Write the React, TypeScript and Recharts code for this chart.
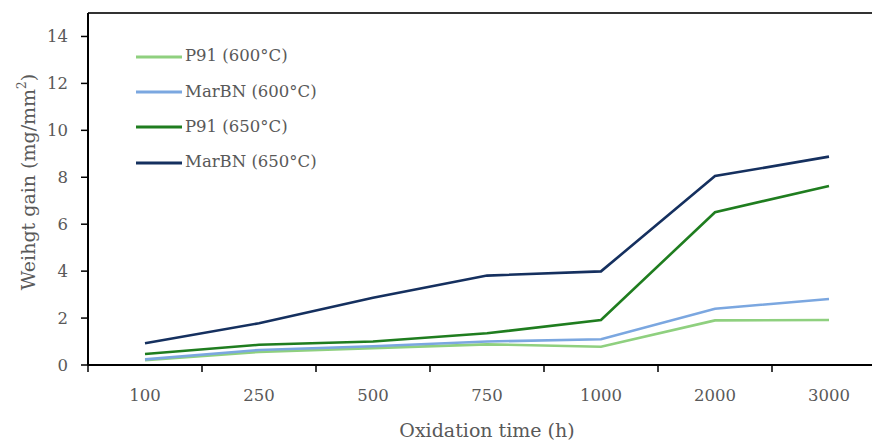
import React from 'react';
import { LineChart, Line, XAxis, YAxis, ReferenceLine, Legend, Label } from 'recharts';

const categories = ['100', '250', '500', '750', '1000', '2000', '3000'];
const p91_600 = [0.2, 0.56, 0.72, 0.88, 0.78, 1.9, 1.92];
const marbn_600 = [0.24, 0.64, 0.8, 1.0, 1.1, 2.4, 2.81];
const p91_650 = [0.47, 0.86, 1.0, 1.35, 1.92, 6.51, 7.63];
const marbn_650 = [0.93, 1.78, 2.87, 3.81, 3.99, 8.05, 8.88];

const seriesKeys = ['p91_600', 'marbn_600', 'p91_650', 'marbn_650'];
const seriesNames = ['P91 (600°C)', 'MarBN (600°C)', 'P91 (650°C)', 'MarBN (650°C)'];
const seriesColors = ['#8fd07f', '#7ba7e0', '#1f7d1f', '#15305f'];
const yTicks = [0, 2, 4, 6, 8, 10, 12, 14];
const xTicks = categories.map((_, i) => i + 0.5);

const data = categories.map((c, i) => ({
  pos: i + 0.5,
  cat: c,
  p91_600: p91_600[i],
  marbn_600: marbn_600[i],
  p91_650: p91_650[i],
  marbn_650: marbn_650[i],
}));

const W = 900;
const H = 436;
const MARGIN = { top: 5, right: 22, bottom: 19, left: 0 };
const YW = 80;
const XH = 60;
const PLOT_W = W - MARGIN.right - MARGIN.left - YW;
const HALF = PLOT_W / categories.length / 2;
const FONT = '"DejaVu Serif", serif';
const TXT = '#595959';

const XTick = (props: any) => {
  const { x, y, payload } = props;
  const idx = Math.floor(payload.value);
  return (
    <g>
      <line x1={x - HALF} x2={x - HALF} y1={y} y2={y + 7} stroke="#000" strokeWidth={1.5} />
      <text x={x} y={y + 30} textAnchor="middle" dominantBaseline="central" fill={TXT} fontSize={16.5} fontFamily={FONT}>
        {categories[idx]}
      </text>
    </g>
  );
};

const LegendContent = () => (
  <div style={{ fontFamily: FONT }}>
    {seriesNames.map((n, i) => (
      <div key={n} style={{ display: 'flex', alignItems: 'center', height: 35.3 }}>
        <svg width={46} height={4} style={{ display: 'block' }}>
          <line x1={0} x2={46} y1={2} y2={2} stroke={seriesColors[i]} strokeWidth={3} />
        </svg>
        <span style={{ marginLeft: 3, fontSize: 16.5, color: TXT, lineHeight: 1, whiteSpace: 'nowrap' }}>{n}</span>
      </div>
    ))}
  </div>
);

export default function App() {
  return (
    <div style={{ width: 872, height: 436, overflow: 'hidden', position: 'relative' }}>
      <LineChart width={W} height={H} data={data} margin={MARGIN}>
        <XAxis
          dataKey="pos"
          type="number"
          domain={[0, categories.length]}
          ticks={xTicks}
          tick={<XTick />}
          tickLine={false}
          tickSize={0}
          tickMargin={0}
          axisLine={{ stroke: '#000', strokeWidth: 2 }}
          height={XH}
          interval={0}
        >
          <Label
            content={(p: any) => {
              const vb = p.viewBox || { x: YW, y: H - MARGIN.bottom - XH, width: PLOT_W, height: XH };
              return (
                <text x={vb.x + vb.width / 2} y={vb.y + 65} textAnchor="middle" dominantBaseline="central" fill={TXT} fontSize={19} fontFamily={FONT}>
                  Oxidation time (h)
                </text>
              );
            }}
          />
        </XAxis>
        <YAxis
          type="number"
          domain={[0, 15]}
          ticks={yTicks}
          width={YW}
          tickSize={7}
          tickMargin={13}
          tickLine={{ stroke: '#000', strokeWidth: 1.5 }}
          axisLine={{ stroke: '#000', strokeWidth: 2 }}
          tick={{ fill: TXT, fontSize: 16.5, fontFamily: FONT }}
          interval={0}
        >
          <Label
            content={(p: any) => {
              const vb = p.viewBox || { x: 0, y: MARGIN.top, width: YW, height: H - MARGIN.top - MARGIN.bottom - XH };
              const cx = 20;
              const cy = vb.y + vb.height / 2 - 7;
              return (
                <text transform={`translate(${cx},${cy}) rotate(-90)`} textAnchor="middle" dominantBaseline="central" fill={TXT} fontSize={19} fontFamily={FONT}>
                  Weihgt gain (mg/mm<tspan dy={-6} fontSize={12}>2</tspan><tspan dy={6}>)</tspan>
                </text>
              );
            }}
          />
        </YAxis>
        <ReferenceLine y={15} stroke="#333" strokeWidth={2} />
        {seriesKeys.map((k, i) => (
          <Line
            key={k}
            dataKey={k}
            name={seriesNames[i]}
            stroke={seriesColors[i]}
            strokeWidth={2.6}
            dot={false}
            type="linear"
            isAnimationActive={false}
          />
        ))}
        <Legend
          layout="vertical"
          align="center"
          verticalAlign="middle"
          content={<LegendContent />}
          wrapperStyle={{ left: 128, top: 31, width: 'auto', height: 'auto' }}
        />
      </LineChart>
    </div>
  );
}
